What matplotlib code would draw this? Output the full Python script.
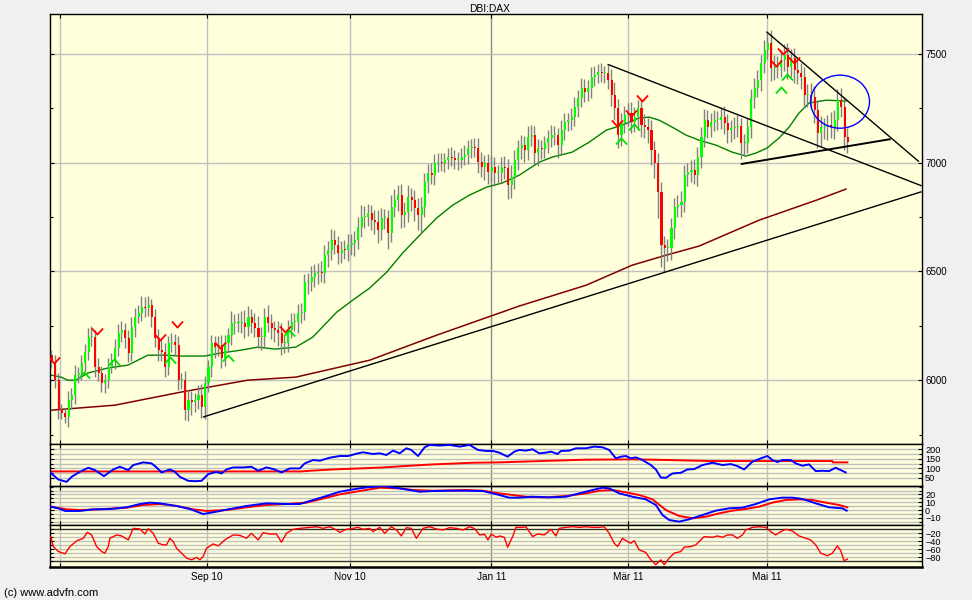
import numpy as np
import matplotlib
matplotlib.use("Agg")
import matplotlib.pyplot as plt
from matplotlib.patches import Ellipse
from matplotlib.path import Path

plt.rcParams['font.family'] = ['Liberation Sans', 'DejaVu Sans']

# ---------------- DATA ----------------
title = "DBI:DAX"
month_pos = [2.6, 46.7, 89.6, 132.1, 173.2, 214.9]
month_labels = ["", "Sep 10", "Nov 10", "Jan 11", "M\u00e4r 11", "Mai 11"]

first_open = 6115
close = [
    6084, 6000, 5862, 5847, 5831, 5908, 5931, 6023, 6031, 6077,
    6130, 6199, 6199, 6061, 6031, 5985, 6000, 6061, 6092, 6146,
    6215, 6230, 6192, 6123, 6245, 6291, 6307, 6337, 6330, 6345,
    6291, 6192, 6138, 6130, 6061, 6169, 6176, 6161, 6000, 6000,
    5862, 5908, 5900, 5908, 5931, 5877, 5985, 6061, 6169, 6153,
    6161, 6100, 6169, 6207, 6261, 6261, 6261, 6261, 6245, 6291,
    6261, 6238, 6199, 6199, 6291, 6261, 6238, 6230, 6215, 6169,
    6169, 6230, 6268, 6268,
    6307, 6315, 6452, 6452, 6475, 6491, 6498, 6491, 6575, 6598,
    6644, 6621, 6583, 6601, 6598, 6621, 6629, 6644, 6705, 6751,
    6751, 6767, 6736, 6728, 6690, 6744, 6744, 6675, 6797, 6828,
    6851, 6759, 6774, 6843, 6828, 6790, 6759, 6797, 6912, 6951,
    6943, 6997, 7004, 6997, 7012, 7027, 7020, 7012, 7015, 7027,
    7035, 7066, 7073, 7066, 7004, 6981, 6997, 6958, 6981, 6951,
    6951, 6981, 6974, 6897, 6935, 7012, 7066,
    7081, 7058, 7119, 7127, 7043, 7066, 7063, 7089, 7112, 7127,
    7127, 7081, 7150, 7188, 7196, 7211, 7257, 7296, 7342, 7326,
    7342, 7395, 7403, 7418, 7411, 7411, 7380, 7311, 7250, 7127,
    7181, 7222, 7231, 7188, 7211, 7250, 7173, 7165, 7150, 7058,
    6997, 6866, 6621, 6606, 6606, 6698, 6797, 6805, 6820, 6943,
    6958, 6966, 6943, 7027,
    7119, 7196, 7165, 7188, 7196, 7196, 7211, 7181, 7150, 7158,
    7165, 7168, 7089, 7089, 7165, 7296, 7342, 7380, 7457, 7518,
    7549, 7434, 7441, 7441, 7472, 7495, 7441, 7480, 7426, 7411,
    7395, 7311, 7311, 7303, 7242, 7135, 7165, 7165, 7173, 7165,
    7196, 7288, 7257, 7119, 7096,
]
wick_up = [
    25, 30, 35, 30, 25, 40, 35, 45, 30, 40, 35, 40, 50, 30, 40, 35, 30, 40, 35, 45,
    45, 40, 35, 40, 45, 40, 40, 50, 45, 40, 30, 35, 45, 55, 40, 35, 40, 35, 40, 35,
    40, 45, 40, 35, 45, 50, 35, 30, 40, 35, 40, 45, 40, 35, 55, 45, 50, 55, 60, 50,
    35, 50, 55, 45, 40, 55, 45, 35, 40, 50, 35, 45, 40, 40,
    45, 40, 35, 40, 50, 45, 40, 50, 45, 40, 50, 45, 40, 40, 45, 50, 45, 40, 45, 55,
    50, 45, 40, 45, 55, 50, 45, 40, 55, 50, 45, 50, 45, 55, 40, 45, 50, 45, 40, 45,
    50, 45, 40, 40, 35, 40, 45, 40, 35, 40, 45, 40, 35, 40, 50, 45, 40, 45, 50, 45,
    40, 45, 50, 45, 55, 45, 40,
    45, 40, 50, 45, 40, 45, 40, 35, 40, 45, 40, 35, 45, 40, 35, 40, 45, 40, 50, 45,
    40, 45, 40, 35, 40, 35, 40, 50, 60, 45, 50, 40, 45, 50, 45, 40, 45, 50, 40, 45,
    40, 50, 45, 40, 45, 50, 40, 45, 50, 45, 40, 45, 50, 45,
    45, 50, 45, 40, 45, 40, 45, 50, 45, 40, 45, 50, 40, 45, 40, 45, 50, 45, 40, 45,
    50, 60, 55, 50, 45, 50, 55, 45, 50, 55, 50, 45, 50, 55, 50, 45, 50, 40, 45, 60,
    45, 50, 55, 45, 40,
]
wick_dn = [
    30, 35, 40, 25, 30, 45, 40, 40, 35, 30, 40, 35, 40, 45, 35, 40, 45, 35, 30, 40,
    35, 40, 45, 40, 35, 45, 30, 35, 40, 35, 45, 40, 50, 40, 45, 35, 40, 50, 45, 40,
    45, 50, 60, 45, 40, 50, 55, 40, 45, 50, 40, 45, 35, 40, 45, 50, 40, 45, 50, 40,
    45, 40, 50, 60, 45, 40, 50, 55, 60, 55, 45, 40, 35, 40,
    50, 45, 40, 55, 40, 45, 50, 40, 45, 55, 45, 40, 50, 45, 40, 50, 45, 60, 40, 45,
    50, 40, 45, 55, 60, 45, 50, 70, 40, 45, 50, 60, 55, 45, 50, 60, 70, 80, 45, 50,
    40, 45, 40, 35, 40, 40, 35, 40, 45, 40, 35, 40, 45, 40, 50, 45, 60, 55, 45, 60,
    50, 45, 50, 65, 60, 55, 45,
    50, 55, 45, 40, 50, 60, 45, 40, 45, 40, 45, 60, 40, 45, 40, 45, 40, 45, 40, 45,
    40, 45, 40, 35, 40, 45, 40, 50, 55, 60, 50, 45, 55, 50, 45, 60, 55, 50, 60, 70,
    65, 120, 100, 110, 60, 55, 50, 45, 55, 45, 50, 45, 40, 50,
    50, 45, 50, 45, 40, 45, 40, 50, 60, 55, 50, 45, 70, 60, 45, 50, 45, 40, 50, 45,
    40, 60, 55, 50, 45, 50, 55, 45, 60, 50, 55, 60, 55, 50, 60, 65, 60, 55, 60, 50,
    55, 50, 45, 60, 50,
]

# moving averages (sample day index, value)
ma_short_t = [0, 2.9, 5.0, 7.4, 11.0, 17.0, 23.0, 29.0, 34.1, 38.9, 46.1, 50.9, 56.9,
              62.0, 67.1, 73.4, 78.5, 85.7, 90.5, 95.6, 100.7, 105.5, 110.6, 115.7,
              120.5, 125.5, 130.7, 135.4, 140.5, 146.5, 150.4, 156.4, 161.5, 166.6,
              171.4, 176.5, 179.5, 182.5, 186.4, 190.6, 194.5, 199.6, 204.4, 208.6,
              211.6, 214.9, 218.5, 221.5, 224.5, 227.5, 232.6, 238.6]
ma_short_v = [6023, 6014, 6000, 6000, 6033, 6056, 6069, 6115, 6115, 6111, 6111, 6125, 6138,
              6152, 6143, 6152, 6198, 6313, 6368, 6424, 6497, 6585, 6667, 6746,
              6805, 6851, 6888, 6907, 6943, 7003, 7026, 7049, 7095, 7150,
              7173, 7206, 7210, 7196, 7164, 7127, 7104, 7081, 7049, 7031,
              7045, 7068, 7114, 7164, 7229, 7275, 7288, 7284]
ma_long_t = [0, 19.1, 38.9, 59.0, 73.4, 95.6, 115.7, 140.5, 160.6, 174.4, 184.6, 194.5,
             212.5, 229.7, 238.6]
ma_long_v = [5862, 5885, 5945, 6000, 6014, 6092, 6207, 6341, 6437, 6529, 6575, 6617,
             6736, 6828, 6879]

# trend lines (day index, price) pairs
trend_t = [(45.5, 261.3), (167.0, 261.3), (214.7, 260.5), (207.0, 252.0)]
trend_v = [(5830, 6867), (7453, 6894), (7603, 7005), (6994, 7109)]
trend_w = [1.0, 1.0, 1.0, 1.4]

# highlight circle (day index, price, width in days, height in points)
circle = (236.8, 7281, 17.7, 244)

# signal markers
sell_t = [0.8, 13.7, 32.6, 37.7, 50.6, 70.1, 169.9, 174.1, 177.4, 217.6, 219.7, 223.0]
sell_v = [6092, 6226, 6198, 6258, 6161, 6235, 7183, 7229, 7298, 7459, 7514, 7472]
buy_t = [9.8, 18.8, 35.6, 53.1, 71.4, 171.1, 175.0, 219.2, 221.0]
buy_v = [6023, 6083, 6092, 6102, 6217, 7100, 7164, 7334, 7394]

# indicator panel 1
ind1_blue_t = [-0.2, 2.1, 4.6, 6.1, 8.6, 11.1, 13.1, 15.8, 18.6, 20.6, 23.1, 24.6, 27.6, 30.1,
               31.6, 33.1, 35.6, 37.1, 38.6, 41.1, 43.1, 45.1, 47.1, 49.6, 51.1, 52.6, 54.6,
               57.6, 60.1, 62.1, 64.6, 67.1, 69.1, 71.6, 74.6, 76.1, 78.6, 80.6, 83.6, 86.6,
               89.1, 92.1, 93.6, 96.6, 98.6, 100.6, 102.6, 104.6, 106.6, 108.1, 110.1, 112.1,
               113.6, 116.6, 119.6, 122.6, 125.6, 128.1, 130.6, 132.6, 134.5, 137.0, 139.0,
               140.5, 142.5, 144.5, 146.5, 148.5, 150.0, 152.0, 153.0, 155.5, 157.5, 160.5,
               163.0, 165.5, 167.5, 169.5, 171.0, 172.5, 174.0, 175.5, 177.5, 180.0, 181.5,
               183.0, 184.5, 186.5, 189.0, 191.0, 193.0, 195.5, 198.5, 201.5, 204.0, 206.0,
               208.0, 210.5, 213.0, 215.0, 216.5, 218.0, 219.5, 222.0, 223.5, 225.5, 227.5,
               229.5, 231.5, 233.5, 235.5, 237.0, 238.5]
ind1_blue_v = [76.6, 41.4, 29.1, 55.5, 81.9, 103.0, 90.7, 59.0, 94.2, 108.3, 90.7, 117.1, 131.2,
               125.9, 104.8, 78.4, 94.2, 81.9, 55.5, 34.4, 32.6, 34.4, 69.6, 81.9, 73.1, 94.2,
               104.8, 104.8, 108.3, 87.2, 104.8, 94.2, 78.4, 99.5, 99.5, 125.9, 143.5, 140.0,
               155.8, 164.6, 164.6, 178.7, 184.0, 175.2, 178.7, 169.9, 192.8, 178.7, 205.1,
               196.3, 164.6, 210.4, 222.7, 219.2, 222.7, 213.9, 222.7, 196.3, 191.0, 191.0,
               182.2, 161.1, 187.5, 196.3, 192.8, 199.8, 178.7, 182.2, 187.5, 175.2, 191.0,
               192.8, 205.1, 205.1, 213.9, 210.4, 196.3, 152.3, 161.1, 164.6, 152.3, 157.6,
               143.5, 117.1, 94.2, 52.0, 50.2, 73.1, 76.6, 94.2, 96.0, 117.1, 129.4, 117.1,
               122.4, 111.8, 94.2, 134.7, 152.3, 164.6, 143.5, 132.9, 143.5, 143.5, 125.9,
               113.6, 120.6, 85.4, 87.2, 85.4, 103.0, 90.7, 78.4]
ind1_red_t = [-0.2, 75.0, 77.6, 84.6, 92.6, 99.6, 107.6, 114.6, 126.6, 134.5, 140.5, 150.5,
              160.5, 174.5, 185.5, 197.5, 234.5, 234.6, 239.0]
ind1_red_v = [83.7, 83.7, 87.2, 94.2, 99.5, 104.8, 113.6, 120.6, 129.4, 131.2, 134.7, 140.0,
              145.3, 147.0, 143.5, 138.2, 138.2, 131.2, 131.2]

# indicator panel 2
ind2_blue_t = [-0.2, 2.1, 4.1, 8.6, 12.6, 17.6, 22.6, 26.6, 29.6, 32.6, 37.6, 41.6, 45.6, 49.6,
               53.6, 58.6, 64.6, 70.6, 74.6, 78.6, 82.6, 86.6, 90.6, 94.6, 99.6, 104.6, 110.6,
               114.6, 119.6, 124.6, 129.6, 134.5, 137.5, 140.5, 144.5, 149.5, 154.5, 158.5,
               162.5, 165.5, 167.5, 170.5, 174.5, 178.5, 181.5, 183.5, 185.5, 188.5, 191.5,
               195.5, 199.5, 203.5, 207.5, 211.5, 215.5, 219.5, 222.5, 225.5, 229.5, 233.5,
               237.5, 238.8]
ind2_blue_v = [4.3, 2.2, -1.2, -1.2, 0.9, 1.3, 3.5, 7.7, 9.5, 8.6, 5.2, 1.3, -5.1, -2.1, 1.3, 5.2,
               8.6, 7.7, 7.7, 12.9, 18.0, 23.5, 26.5, 29.1, 30.8, 27.8, 23.5, 24.4, 24.8, 24.8,
               24.4, 19.3, 15.9, 15.9, 17.1, 16.3, 17.1, 21.4, 25.7, 28.7, 27.8, 21.4, 17.1,
               13.7, 6.5, -6.4, -12.8, -14.9, -11.9, -6.4, -0.8, 2.2, 3.0, 7.7, 13.7, 15.9,
               15.9, 14.2, 8.6, 3.5, 2.2, -0.8]
ind2_red_t = [-0.2, 4.6, 8.6, 14.6, 22.6, 27.6, 32.6, 37.6, 42.6, 46.6, 52.6, 58.6, 64.6, 70.6,
              76.6, 80.6, 86.6, 92.6, 98.6, 104.6, 108.6, 114.6, 124.6, 129.6, 134.5, 138.5,
              142.5, 148.5, 154.5, 160.5, 164.5, 168.5, 172.5, 176.5, 180.5, 184.5, 188.5,
              192.5, 196.5, 200.5, 204.5, 208.5, 212.5, 216.5, 220.5, 224.5, 228.5, 232.5,
              236.5, 239.0]
ind2_red_v = [4.3, 0.9, 0.0, 0.9, 3.0, 6.5, 7.7, 5.2, 0.9, -1.2, 0.0, 3.5, 6.5, 7.7, 9.5, 13.7,
              20.1, 24.4, 28.7, 27.8, 25.7, 24.8, 25.7, 24.8, 21.4, 19.3, 17.1, 16.3, 18.0,
              21.4, 24.8, 25.7, 22.7, 19.3, 13.7, 0.0, -7.6, -10.6, -8.5, -4.3, -0.8, 1.3,
              4.3, 9.5, 12.9, 13.7, 12.9, 9.5, 6.5, 3.5]

# indicator panel 3
ind3_t = [-0.2, 0.6, 2.1, 4.1, 5.6, 7.6, 9.6, 10.8, 12.1, 13.6, 15.1, 16.1, 17.1, 17.6, 19.6,
          21.1, 23.1, 24.6, 26.6, 28.1, 29.1, 30.6, 32.1, 33.6, 34.6, 35.6, 36.6, 37.6, 39.1,
          40.6, 42.1, 43.6, 44.6, 45.6, 46.6, 48.6, 50.1, 52.1, 54.6, 56.6, 58.6, 60.1, 62.1,
          63.6, 65.6, 67.6, 69.1, 70.6, 72.6, 74.6, 77.6, 79.6, 81.6, 83.6, 85.6, 86.6, 88.6,
          90.6, 92.1, 93.6, 95.6, 96.6, 98.6, 100.1, 102.1, 103.6, 105.1, 106.6, 108.1, 109.6,
          111.6, 113.6, 115.6, 117.6, 119.6, 121.6, 123.6, 125.6, 127.1, 128.6, 130.1, 131.1,
          132.1, 133.6, 134.6, 136.0, 137.0, 138.5, 139.5, 141.5, 142.5, 144.5, 146.0, 148.0,
          150.0, 151.5, 152.5, 154.5, 156.5, 158.5, 160.5, 162.5, 164.5, 166.0, 167.5, 169.0,
          170.0, 171.5, 173.0, 174.0, 175.0, 176.5, 178.5, 180.0, 181.5, 183.0, 184.0, 185.5,
          187.0, 189.0, 190.0, 192.0, 193.5, 194.5, 196.0, 198.5, 200.0, 201.5, 203.0, 204.5,
          206.0, 207.5, 208.5, 210.5, 212.5, 214.5, 216.0, 217.5, 219.0, 220.5, 222.5, 224.5,
          226.5, 228.0, 229.5, 231.0, 233.0, 234.5, 236.0, 237.0, 238.0, 239.0]
ind3_v = [-28.2, -52.9, -65.2, -71.0, -52.9, -38.9, -32.3, -17.5, -24.0, -52.9, -65.2, -69.3,
          -52.9, -32.3, -24.0, -26.5, -36.4, -7.6, -9.2, -21.6, -8.4, -19.9, -44.6, -48.7,
          -48.7, -32.3, -40.5, -57.0, -69.3, -81.7, -85.8, -80.0, -85.8, -77.5, -57.0, -46.3,
          -51.2, -36.4, -24.0, -24.9, -32.3, -19.9, -36.4, -18.3, -21.6, -21.6, -42.1, -19.9,
          -10.1, -7.6, -5.1, -3.5, -7.6, -3.5, -11.7, -17.5, -10.1, -7.6, -5.1, -10.1, -7.6,
          -15.8, -5.1, -19.9, -3.5, -11.7, -26.5, -5.9, -7.6, -32.3, -7.6, -3.5, -9.2, -11.7,
          -5.9, -7.6, -11.7, -3.5, -8.4, -24.0, -22.4, -36.4, -21.6, -29.8, -26.5, -29.8,
          -54.5, -28.2, -5.1, -5.1, -3.5, -28.2, -21.6, -24.0, -10.1, -26.5, -7.6, -5.1, -3.5,
          -5.1, -3.5, -5.1, -5.1, -3.5, -19.9, -44.6, -52.9, -32.3, -40.5, -44.6, -38.0,
          -61.1, -67.7, -85.8, -98.1, -85.8, -98.1, -81.7, -69.3, -65.2, -54.5, -52.9, -48.7,
          -40.5, -28.2, -29.8, -26.5, -29.8, -24.0, -24.0, -32.3, -24.0, -11.7, -5.1, -3.5,
          -5.1, -15.8, -24.0, -15.8, -10.1, -14.2, -26.5, -32.3, -36.4, -48.7, -69.3, -75.9,
          -69.3, -51.2, -62.7, -88.2, -84.1]

# ---------------- STYLE ----------------
BG = '#F0F0F0'
FACE = '#FFFFDC'
GRID = '#C0C0C0'
GREEN = '#00FF00'
RED = '#FF0000'
WICK = '#808080'
FS = 7.0

W_PX, H_PX = 972, 600
fig = plt.figure(figsize=(W_PX / 100, H_PX / 100), dpi=100, facecolor=BG)

def frac_rect(x0, y0, x1, y1):
    return [x0 / W_PX, 1 - y1 / H_PX, (x1 - x0) / W_PX, (y1 - y0) / H_PX]

L, R = 50.3, 922.3
ax1 = fig.add_axes(frac_rect(L, 14.3, R, 444.3))
ax2 = fig.add_axes(frac_rect(L, 444.3, R, 485.5))
ax3 = fig.add_axes(frac_rect(L, 485.5, R, 525.3))
ax4 = fig.add_axes(frac_rect(L, 525.3, R, 566.7))
axes = [ax1, ax2, ax3, ax4]
XLIM = (-0.3, 261.5)

for ax in axes:
    ax.set_facecolor(FACE)
    ax.set_xlim(*XLIM)
    for s in ax.spines.values():
        s.set_color('black')
        s.set_linewidth(1.0)
    for i, p in enumerate(month_pos):
        ax.axvline(p, color=('#8C8C8C' if month_labels[i].startswith('Jan') else GRID),
                   lw=1.0, zorder=0)
    ax.set_xticks(month_pos)
    ax.tick_params(axis='x', direction='in', length=3, width=0.8, top=True, bottom=True,
                   labelbottom=False)
    ax.tick_params(axis='y', which='both', direction='in', left=True, right=True,
                   labelleft=False, labelright=True, labelsize=FS, pad=2, width=0.8)
    ax.tick_params(axis='y', which='major', length=3)
    ax.tick_params(axis='y', which='minor', length=2)

ax2.tick_params(axis='y', labelsize=6.6)
ax3.tick_params(axis='y', labelsize=6.6)
ax4.tick_params(axis='y', labelsize=6.6)
ax4.spines['bottom'].set_linewidth(1.8)
ax4.set_xticklabels(month_labels)
ax4.tick_params(axis='x', labelbottom=True, labelsize=7.2, pad=4)

# ---------------- MAIN PANEL ----------------
close = np.array(close, dtype=float)
n = len(close)
t = np.arange(n)
opn = np.concatenate([[first_open], close[:-1]])
hi = np.maximum(opn, close) + np.array(wick_up)
lo = np.minimum(opn, close) - np.array(wick_dn)

ax1.set_ylim(5705, 7683)
ax1.set_yticks([6000, 6500, 7000, 7500])
ax1.set_yticks([5750, 6250, 6750, 7250], minor=True)
for v in [6000, 6500, 7000, 7500]:
    ax1.axhline(v, color=GRID, lw=1.0, zorder=0)

ax1.plot(ma_long_t, ma_long_v, color='#800000', lw=1.1, zorder=2)
ax1.plot(ma_short_t, ma_short_v, color='#008000', lw=1.0, zorder=2)

ax1.vlines(t, lo, hi, color=WICK, lw=1.0, zorder=3)
body_bot = np.minimum(opn, close)
body_h = np.maximum(np.abs(close - opn), 5)
cols = [GREEN if c >= o else RED for o, c in zip(opn, close)]
ax1.bar(t + 0.2, body_h, bottom=body_bot, width=0.62, color=cols, linewidth=0, zorder=4)

for (t0, t1), (v0, v1), w in zip(trend_t, trend_v, trend_w):
    ax1.plot([t0, t1], [v0, v1], color='black', lw=w, zorder=5, solid_capstyle='butt')

ax1.add_patch(Ellipse((circle[0], circle[1]), circle[2], circle[3], fill=False,
                      edgecolor='#0000FF', lw=1.0, zorder=7))

vpath = Path([(-1, 0.55), (0, -0.55), (1, 0.55)], [Path.MOVETO, Path.LINETO, Path.LINETO])
apath = Path([(-1, -0.55), (0, 0.55), (1, -0.55)], [Path.MOVETO, Path.LINETO, Path.LINETO])
ax1.plot(sell_t, sell_v, ls='none', marker=vpath, ms=8, mfc='none', mec=RED, mew=1.3, zorder=6)
ax1.plot(buy_t, buy_v, ls='none', marker=apath, ms=8, mfc='none', mec='#00E000', mew=1.3, zorder=6)

# ---------------- INDICATOR 1 ----------------
ax2.set_ylim(10, 226)
ax2.set_yticks([50, 100, 150, 200])
ax2.set_yticks([75, 125, 175], minor=True)
for v in [50, 75, 100, 125, 150, 175, 200]:
    ax2.axhline(v, color=GRID, lw=1.0, zorder=0)
ax2.plot(ind1_red_t, ind1_red_v, color=RED, lw=1.4, zorder=2)
ax2.plot(ind1_blue_t, ind1_blue_v, color='#0000FF', lw=1.4, zorder=3)

# ---------------- INDICATOR 2 ----------------
ax3.set_ylim(-19.6, 31.5)
ax3.set_yticks([-10, 0, 10, 20])
ax3.set_yticks([-15, -5, 5, 15, 25, 30], minor=True)
for v in [-15, -10, -5, 0, 5, 10, 15, 20, 25, 30]:
    ax3.axhline(v, color=GRID, lw=1.0, zorder=0)
ax3.plot(ind2_red_t, ind2_red_v, color=RED, lw=1.4, zorder=2)
ax3.plot(ind2_blue_t, ind2_blue_v, color='#0000FF', lw=1.4, zorder=3)

# ---------------- INDICATOR 3 ----------------
ax4.set_ylim(-103, 0)
ax4.set_yticks([-80, -60, -40, -20])
ax4.set_yticks([-90, -70, -50, -30, -10], minor=True)
for v in [-80, -70, -60, -50, -40, -30, -20]:
    ax4.axhline(v, color=GRID, lw=1.0, zorder=0)
for v in [-10, -90]:
    ax4.axhline(v, color='#303030', lw=1.0, zorder=1)
ax4.plot(ind3_t, ind3_v, color=RED, lw=1.0, zorder=3)

# ---------------- TEXT ----------------
fig.text(490 / W_PX, 1 - 8.5 / H_PX, title, ha='center', va='center', fontsize=7.4)
fig.text(4 / W_PX, 1 - 592.5 / H_PX, "(c) www.advfn.com", ha='left', va='center', fontsize=8)

fig.savefig("out.png", dpi=100, facecolor=BG)
